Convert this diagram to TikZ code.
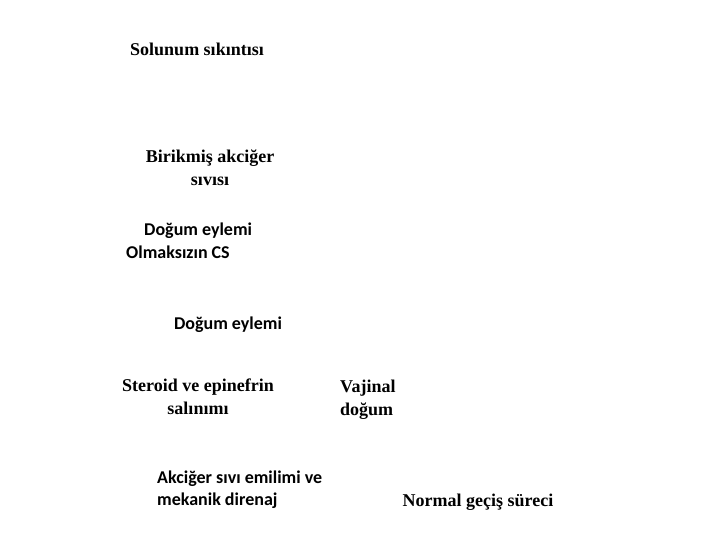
\documentclass[tikz,border=0pt]{standalone}
\usepackage{fontspec}
\setmainfont{Liberation Serif}
\newfontfamily\calibrifont{Carlito}
\usetikzlibrary{positioning}

\begin{document}
\begin{tikzpicture}[x=1pt,y=1pt,
  serifbox/.style={inner sep=0pt,font=\fontsize{18}{23}\selectfont\bfseries,align=center},
  sansbox/.style={inner sep=0pt,font=\fontsize{18}{22}\selectfont\calibrifont\bfseries}]
\useasboundingbox (0,0) rectangle (720,-540);
% upper chain
\node[serifbox] (distress) at (197,-49) {Solunum sıkıntısı};
\node[serifbox] (fluid) at (210,-168) {Birikmiş akciğer\\sıvısı};
\node[sansbox,anchor=west,align=left] (cesarean) at (126,-241) {\hspace*{18pt}Doğum eylemi\\[1pt]Olmaksızın CS};
\node[sansbox] (labor) at (228,-325) {Doğum eylemi};
% lower part
\node[serifbox] (hormones) at (198,-397) {Steroid ve epinefrin\\salınımı};
\node[serifbox,anchor=west,align=left] (vaginal) at (340,-400) {Vajinal\\doğum};
\node[sansbox,anchor=west,align=left] (clearance) at (157,-490) {Akciğer sıvı emilimi ve\\mekanik direnaj};
\node[serifbox] (transition) at (478,-502) {Normal geçiş süreci};
\end{tikzpicture}
\end{document}
